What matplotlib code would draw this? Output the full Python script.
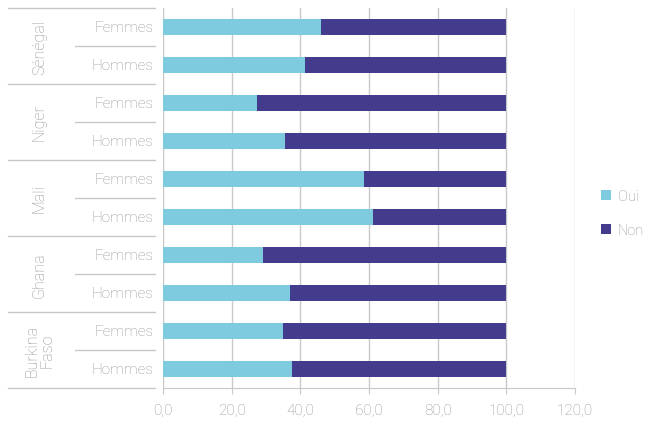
import matplotlib.pyplot as plt
from matplotlib.transforms import blended_transform_factory

# data, bottom row first
countries = ["Burkina\nFaso", "Ghana", "Mali", "Niger", "Sénégal"]
sexes = ["Hommes", "Femmes"]
oui = [37.6, 35.0, 36.9, 29.0, 61.1, 58.5, 35.5, 27.5, 41.4, 46.1]
non = [100 - v for v in oui]
row_labels = [s for c in countries for s in sexes]
xticks = [0, 20, 40, 60, 80, 100, 120]
xtick_labels = ["0,0", "20,0", "40,0", "60,0", "80,0", "100,0", "120,0"]

c_oui = "#7ecbe0"
c_non = "#433b8c"
grey = "#949494"
line = "#c8c8c8"

plt.rcParams["font.family"] = ["Roboto", "DejaVu Sans"]

fig = plt.figure(figsize=(6.71, 4.27), dpi=100)
ax = fig.add_axes([0.243, 0.089, 0.614, 0.890])

y = list(range(len(oui)))
ax.barh(y, oui, height=0.4, color=c_oui, label="Oui", zorder=3)
ax.barh(y, non, left=oui, height=0.4, color=c_non, label="Non", zorder=3)

ax.set_xlim(0, 120)
ax.set_ylim(-0.5, 9.5)
ax.set_xticks(xticks)
ax.set_xticklabels(xtick_labels, color=grey, fontsize=11, fontweight="light")
ax.tick_params(axis="x", length=4, color=line, pad=7)
ax.set_yticks([])
ax.grid(axis="x", color=line, linewidth=1, zorder=0)
for s in ["top", "right", "left"]:
    ax.spines[s].set_visible(False)
ax.spines["bottom"].set_color(line)

# category axis with groups
tr = blended_transform_factory(ax.transAxes, ax.transData)
for i, lab in enumerate(row_labels):
    ax.text(-0.024, i, lab, transform=tr, ha="right", va="center",
            color=grey, fontsize=11, fontweight="light")
for g, c in enumerate(countries):
    ax.text(-0.30, 2 * g + 0.5, c, transform=tr, ha="center", va="center",
            rotation=90, color=grey, fontsize=11.5, fontweight="light",
            linespacing=1.0)
for b in [-0.5, 1.5, 3.5, 5.5, 7.5, 9.5]:
    ax.plot([-0.376, -0.019], [b, b], transform=tr, color=line,
            linewidth=1, clip_on=False)
for b in [0.5, 2.5, 4.5, 6.5, 8.5]:
    ax.plot([-0.214, -0.019], [b, b], transform=tr, color=line,
            linewidth=1, clip_on=False)

leg = ax.legend(loc="center left", bbox_to_anchor=(1.03, 0.46), frameon=False,
                handlelength=0.7, handleheight=0.7, handletextpad=0.5,
                labelspacing=1.35, labelcolor=grey,
                prop={"size": 10.5, "weight": "light"})

fig.savefig("out.png", dpi=100)
